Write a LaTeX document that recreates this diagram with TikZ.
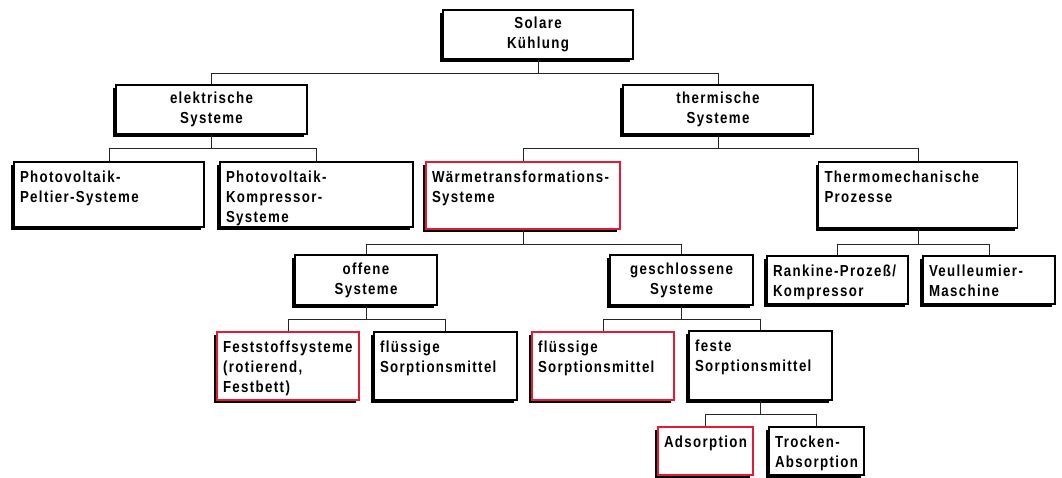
\documentclass[tikz,border=0pt]{standalone}
\usepackage{fontspec}
\setmainfont{Liberation Sans}[FakeStretch=0.83, LetterSpace=8.5]
\usetikzlibrary{shadows}
\definecolor{framered}{RGB}{230,25,55}
\begin{document}
\begin{tikzpicture}[x=1pt,y=-1pt,
  every node/.style={font=\fontsize{16}{20}\selectfont\bfseries},
  frame/.style={draw=black, line width=1.2pt, fill=white,
    drop shadow={shadow xshift=-3pt, shadow yshift=-3pt, fill=black, opacity=1}},
  cbox/.style 2 args={frame, minimum width=#1, minimum height=#2, align=center, inner sep=0pt},
  lbox/.style 2 args={frame, text width=#1-12pt, text height=14.5pt, text depth=#2-25.5pt,
    inner xsep=6pt, inner ysep=5.5pt, align=left},
  link/.style={line width=0.8pt, black!85}]
\useasboundingbox (0,0) rectangle (1062,477);

% level 0 and 1
\node[cbox={190pt}{49pt}] (solare) at (538,34.5) {Solare\\Kühlung};
\node[cbox={191pt}{49pt}] (elek) at (211.5,109.5) {elektrische\\Systeme};
\node[cbox={190pt}{49pt}] (therm) at (718,109.5) {thermische\\Systeme};

% level 2
\node[lbox={190pt}{65pt}] (pvpelt) at (109,194.5) {Photovoltaik-\\Peltier-Systeme};
\node[lbox={193pt}{65pt}] (pvkomp) at (316.5,194.5) {Photovoltaik-\\Kompressor-\\Systeme};
\node[lbox={194pt}{67pt}, draw=framered] (waerme) at (523,195.5) {Wärmetransformations-\\Systeme};
\node[lbox={199pt}{66pt}] (thmech) at (918,195) {Thermomechanische\\Prozesse};

% level 3
\node[cbox={142pt}{50pt}] (offen) at (366,280) {offene\\Systeme};
\node[cbox={143pt}{50pt}] (geschl) at (681.5,280) {geschlossene\\Systeme};
\node[lbox={141pt}{48pt}] (rankine) at (837.5,280) {Rankine-Prozeß/\\Kompressor};
\node[lbox={132pt}{48pt}] (veull) at (989,280) {Veulleumier-\\Maschine};

% level 4
\node[lbox={142pt}{68pt}, draw=framered] (fest) at (288,366) {Feststoffsysteme\\(rotierend,\\Festbett)};
\node[lbox={143pt}{68pt}] (fluoff) at (445.5,366) {flüssige\\Sorptionsmittel};
\node[lbox={142pt}{68pt}, draw=framered] (flugeschl) at (603,366) {flüssige\\Sorptionsmittel};
\node[lbox={143pt}{69pt}] (feste) at (760.5,365.5) {feste\\Sorptionsmittel};

% level 5
\node[lbox={95pt}{48pt}, draw=framered] (ads) at (705.5,451) {Adsorption};
\node[lbox={95pt}{48pt}] (trock) at (816.5,451) {Trocken-\\Absorption};

% tree connectors
\draw[link] (solare.south) -- ++(0,14) -| (elek.north);
\draw[link] (solare.south) -- ++(0,14) -| (therm.north);
\draw[link] (elek.south) -- ++(0,14) -| (pvpelt.north);
\draw[link] (elek.south) -- ++(0,14) -| (pvkomp.north);
\draw[link] (therm.south) -- ++(0,14) -| (waerme.north);
\draw[link] (therm.south) -- ++(0,14) -| (thmech.north);
\draw[link] (waerme.south) -- ++(0,15) -| (offen.north);
\draw[link] (waerme.south) -- ++(0,15) -| (geschl.north);
\draw[link] (thmech.south) -- ++(0,16) -| (rankine.north);
\draw[link] (thmech.south) -- ++(0,16) -| (veull.north);
\draw[link] (offen.south) -- ++(0,14) -| (fest.north);
\draw[link] (offen.south) -- ++(0,14) -| (fluoff.north);
\draw[link] (geschl.south) -- ++(0,14) -| (flugeschl.north);
\draw[link] (geschl.south) -- ++(0,14) -| (feste.north);
\draw[link] (feste.south) -- ++(0,14) -| (ads.north);
\draw[link] (feste.south) -- ++(0,14) -| (trock.north);
\end{tikzpicture}
\end{document}
